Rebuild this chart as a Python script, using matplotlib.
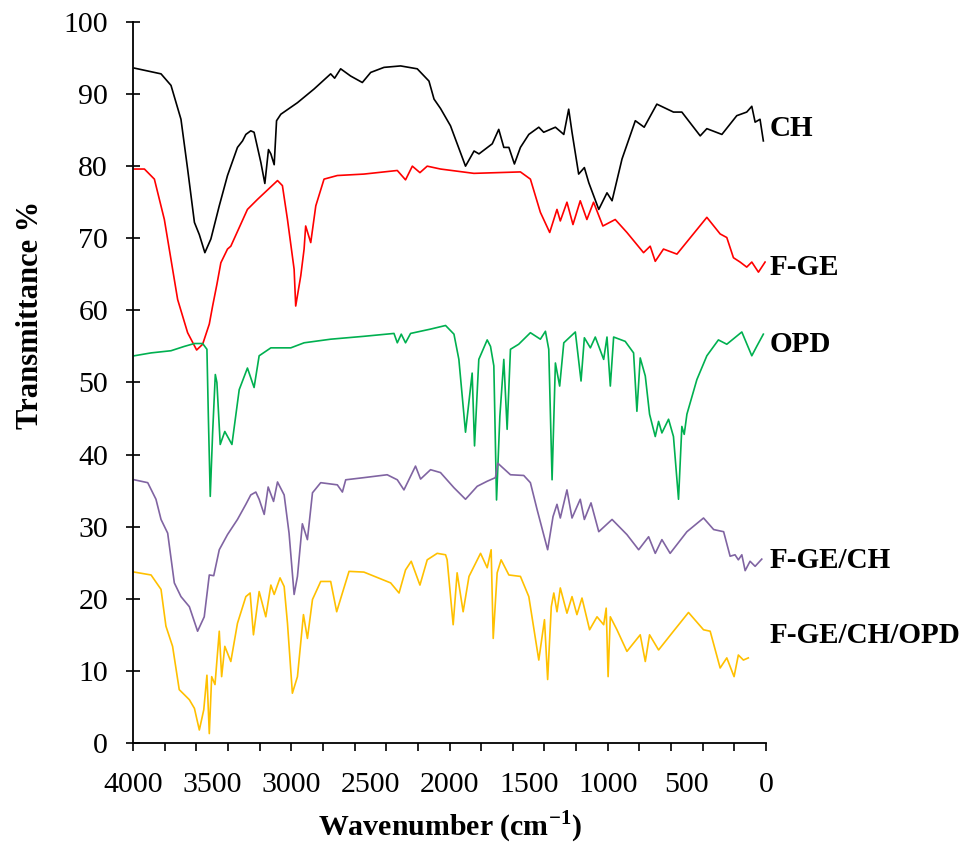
import numpy as np
import matplotlib
matplotlib.use("Agg")
import matplotlib.pyplot as plt

plt.rcParams["font.family"] = ["Liberation Serif", "DejaVu Serif"]
plt.rcParams["mathtext.fontset"] = "custom"
plt.rcParams["mathtext.rm"] = "Liberation Serif"
plt.rcParams["mathtext.bf"] = "Liberation Serif:bold"

# spectra (wavenumber cm-1, transmittance %)
ch_wn = [3992, 3823, 3760, 3697, 3655, 3612, 3581, 3546, 3508, 3455, 3403, 3340, 3308, 3287,
         3256, 3235, 3192, 3167, 3144, 3129, 3108, 3093, 3066, 2961, 2856, 2751, 2726, 2688,
         2625, 2551, 2498, 2414, 2309, 2204, 2130, 2098, 2057, 1994, 1899, 1845, 1814, 1730,
         1689, 1657, 1625, 1590, 1552, 1499, 1436, 1405, 1331, 1278, 1247, 1226, 1184, 1148,
         1120, 1057, 1005, 973, 910, 826, 770, 690, 585, 532, 416, 374, 279, 185, 122, 90, 69,
         38, 17]
ch_t = [93.6, 92.8, 91.2, 86.5, 79.6, 72.2, 70.5, 68.0, 69.9, 74.5, 78.7, 82.6, 83.5, 84.4,
        84.9, 84.7, 80.5, 77.6, 82.3, 81.7, 80.2, 86.3, 87.2, 88.8, 90.7, 92.8, 92.2, 93.5,
        92.5, 91.6, 93.0, 93.7, 93.9, 93.5, 91.8, 89.3, 88.0, 85.6, 80.0, 82.1, 81.7, 83.1,
        85.1, 82.6, 82.6, 80.3, 82.6, 84.4, 85.4, 84.7, 85.4, 84.4, 87.9, 84.7, 78.9, 79.8,
        77.7, 74.0, 76.3, 75.2, 81.0, 86.3, 85.4, 88.6, 87.5, 87.5, 84.2, 85.2, 84.4, 87.0,
        87.5, 88.3, 86.1, 86.5, 83.5]

fge_wn = [3992, 3928, 3865, 3802, 3771, 3718, 3655, 3598, 3560, 3518, 3497, 3470, 3445, 3403,
          3382, 3277, 3213, 3087, 3056, 3024, 2982, 2972, 2940, 2919, 2909, 2877, 2845, 2793,
          2709, 2541, 2330, 2278, 2235, 2187, 2141, 2057, 1846, 1552, 1489, 1426, 1367, 1321,
          1300, 1258, 1220, 1174, 1132, 1090, 1031, 953, 879, 774, 732, 700, 648, 563, 374,
          290, 248, 206, 164, 122, 90, 48, 6]
fge_t = [79.6, 79.6, 78.2, 72.6, 68.5, 61.5, 56.9, 54.5, 55.3, 58.1, 60.6, 63.6, 66.6, 68.5,
         68.9, 74.0, 75.4, 78.0, 77.3, 72.6, 65.7, 60.6, 64.8, 68.5, 71.7, 69.4, 74.5, 78.2,
         78.7, 78.9, 79.4, 78.1, 80.0, 79.1, 80.0, 79.6, 79.0, 79.2, 78.2, 73.6, 70.8, 74.0,
         72.4, 75.0, 71.9, 75.2, 72.6, 75.0, 71.7, 72.6, 70.8, 68.0, 68.9, 66.8, 68.5, 67.8,
         72.9, 70.6, 70.1, 67.3, 66.7, 66.0, 66.7, 65.3, 66.7]

opd_wn = [3992, 3886, 3760, 3676, 3612, 3560, 3533, 3524, 3512, 3497, 3480, 3470, 3449, 3420,
          3375, 3329, 3277, 3235, 3203, 3129, 3003, 2919, 2751, 2541, 2351, 2330, 2305, 2278,
          2246, 2120, 2025, 1972, 1941, 1899, 1857, 1842, 1815, 1762, 1741, 1720, 1703, 1682,
          1657, 1636, 1615, 1563, 1489, 1426, 1394, 1373, 1352, 1331, 1304, 1278, 1205, 1169,
          1148, 1110, 1079, 1026, 1005, 984, 963, 890, 837, 816, 795, 763, 736, 700, 679, 658,
          616, 585, 553, 532, 517, 500, 437, 374, 301, 248, 153, 90, 59, 17]
opd_t = [53.7, 54.1, 54.4, 55.0, 55.4, 55.4, 54.6, 45.3, 34.2, 43.0, 51.1, 50.0, 41.4, 43.2,
         41.4, 49.0, 52.0, 49.3, 53.7, 54.8, 54.8, 55.5, 56.0, 56.4, 56.8, 55.5, 56.7, 55.5,
         56.8, 57.4, 57.9, 56.7, 53.2, 43.1, 51.3, 41.2, 53.2, 55.9, 55.0, 52.3, 33.7, 45.3,
         53.2, 43.5, 54.6, 55.3, 56.9, 56.0, 57.1, 54.6, 36.5, 52.7, 49.5, 55.5, 57.0, 50.2,
         56.2, 54.8, 56.3, 53.2, 56.3, 49.5, 56.3, 55.7, 54.1, 46.0, 53.4, 50.9, 45.6, 42.5,
         44.6, 43.0, 44.9, 42.5, 33.8, 43.9, 42.8, 45.6, 50.4, 53.7, 55.9, 55.3, 57.0, 53.7,
         55.0, 56.7]

fgech_wn = [3992, 3907, 3855, 3823, 3781, 3739, 3697, 3644, 3592, 3550, 3518, 3490, 3455, 3403,
            3340, 3287, 3256, 3224, 3203, 3171, 3146, 3112, 3087, 3045, 3014, 2982, 2961, 2930,
            2898, 2866, 2814, 2709, 2677, 2656, 2541, 2394, 2330, 2288, 2215, 2183, 2120, 2057,
            1972, 1899, 1825, 1762, 1710, 1695, 1615, 1531, 1489, 1447, 1380, 1346, 1321, 1300,
            1258, 1226, 1174, 1148, 1106, 1057, 973, 879, 805, 742, 700, 658, 606, 500, 395,
            331, 268, 227, 196, 175, 153, 132, 101, 69, 27]
fgech_t = [36.5, 36.1, 33.8, 31.0, 29.1, 22.2, 20.3, 18.9, 15.5, 17.5, 23.3, 23.2, 26.8, 28.9,
           31.0, 33.1, 34.4, 34.8, 33.8, 31.7, 35.5, 33.5, 36.2, 34.4, 29.1, 20.6, 23.1, 30.4,
           28.2, 34.7, 36.1, 35.8, 34.8, 36.5, 36.8, 37.2, 36.5, 35.1, 38.4, 36.6, 37.9, 37.5,
           35.4, 33.8, 35.6, 36.3, 36.8, 38.8, 37.2, 37.1, 36.1, 32.4, 26.8, 31.4, 33.1, 31.2,
           35.1, 31.2, 33.8, 31.0, 33.3, 29.3, 31.0, 28.9, 26.8, 28.6, 26.3, 28.2, 26.3, 29.3,
           31.2, 29.6, 29.3, 25.9, 26.1, 25.4, 26.1, 23.9, 25.2, 24.5, 25.5]

all_wn = [3992, 3886, 3823, 3792, 3750, 3708, 3644, 3612, 3581, 3553, 3533, 3518, 3503, 3482,
          3455, 3440, 3420, 3382, 3340, 3287, 3260, 3239, 3203, 3161, 3129, 3108, 3071, 3045,
          3024, 2993, 2961, 2923, 2898, 2866, 2814, 2751, 2713, 2684, 2635, 2541, 2372, 2319,
          2278, 2242, 2187, 2141, 2078, 2025, 2015, 1977, 1952, 1914, 1877, 1804, 1762, 1737,
          1724, 1699, 1674, 1625, 1552, 1499, 1436, 1400, 1380, 1357, 1341, 1321, 1300, 1258,
          1226, 1195, 1163, 1115, 1068, 1026, 1010, 998, 984, 942, 879, 795, 763, 736, 679,
          585, 490, 395, 353, 290, 248, 202, 175, 143, 112]
all_t = [23.7, 23.3, 21.3, 16.2, 13.4, 7.4, 6.0, 4.8, 1.8, 4.6, 9.4, 1.3, 9.2, 8.1,
         15.5, 9.2, 13.4, 11.3, 16.6, 20.3, 20.8, 15.0, 21.0, 17.5, 21.9, 20.6, 22.9, 21.7,
         16.6, 6.9, 9.2, 17.8, 14.5, 19.9, 22.4, 22.4, 18.2, 20.3, 23.8, 23.7, 22.2, 20.8,
         24.0, 25.2, 21.9, 25.4, 26.3, 26.1, 25.4, 16.4, 23.6, 18.2, 23.1, 26.3, 24.3, 26.8,
         14.5, 23.6, 25.4, 23.3, 23.1, 20.3, 11.5, 17.1, 8.8, 18.9, 20.8, 18.2, 21.5, 18.0,
         20.3, 17.8, 20.1, 15.7, 17.5, 16.4, 18.7, 9.2, 17.5, 15.7, 12.7, 15.0, 11.3, 15.0, 12.9,
         15.5, 18.1, 15.7, 15.5, 10.4, 11.8, 9.2, 12.2, 11.5, 11.8]

names = ["CH", "F-GE", "OPD", "F-GE/CH", "F-GE/CH/OPD"]
colors = ["#000000", "#ff0000", "#00b050", "#8064a2", "#ffc000"]
label_y = [85.2, 66.0, 55.3, 25.3, 14.9]

fig = plt.figure(figsize=(9.66, 8.44), dpi=100)
ax = fig.add_axes([0.1377, 0.1197, 0.6553, 0.8543])

series = [(ch_wn, ch_t), (fge_wn, fge_t), (opd_wn, opd_t), (fgech_wn, fgech_t), (all_wn, all_t)]
for (wn, t), c in zip(series, colors):
    ax.plot(wn, t, color=c, lw=1.2)

for name, y in zip(names, label_y):
    ax.text(-25, y, name, fontsize=21, fontweight="bold", ha="left", va="center", clip_on=False)

ax.set_xlim(4000, 0)
ax.set_ylim(0, 100)

ax.spines["top"].set_visible(False)
ax.spines["right"].set_visible(False)
for s in ["left", "bottom"]:
    ax.spines[s].set_linewidth(1.3)

ax.set_xticks(np.arange(0, 4001, 500))
ax.set_xticks(np.arange(0, 4001, 200), minor=True)
ax.xaxis.remove_overlapping_locs = False
ax.tick_params(axis="x", which="major", length=0, pad=21, labelsize=21.5)
ax.tick_params(axis="x", which="minor", length=6, width=1.2, direction="out")
ax.set_yticks(np.arange(0, 101, 10))
ax.tick_params(axis="y", which="major", length=10, width=1.2, direction="inout", pad=13, labelsize=21.5)

ax.set_ylabel("Transmittance %", fontsize=22, fontweight="bold")
ax.yaxis.set_label_coords(-0.139, 0.594)
ax.set_xlabel(r"Wavenumber (cm$^{\mathbf{-1}}$)", fontsize=21.5, fontweight="bold")
ax.xaxis.set_label_coords(0.5, -0.091)

fig.savefig("out.png", dpi=100)
